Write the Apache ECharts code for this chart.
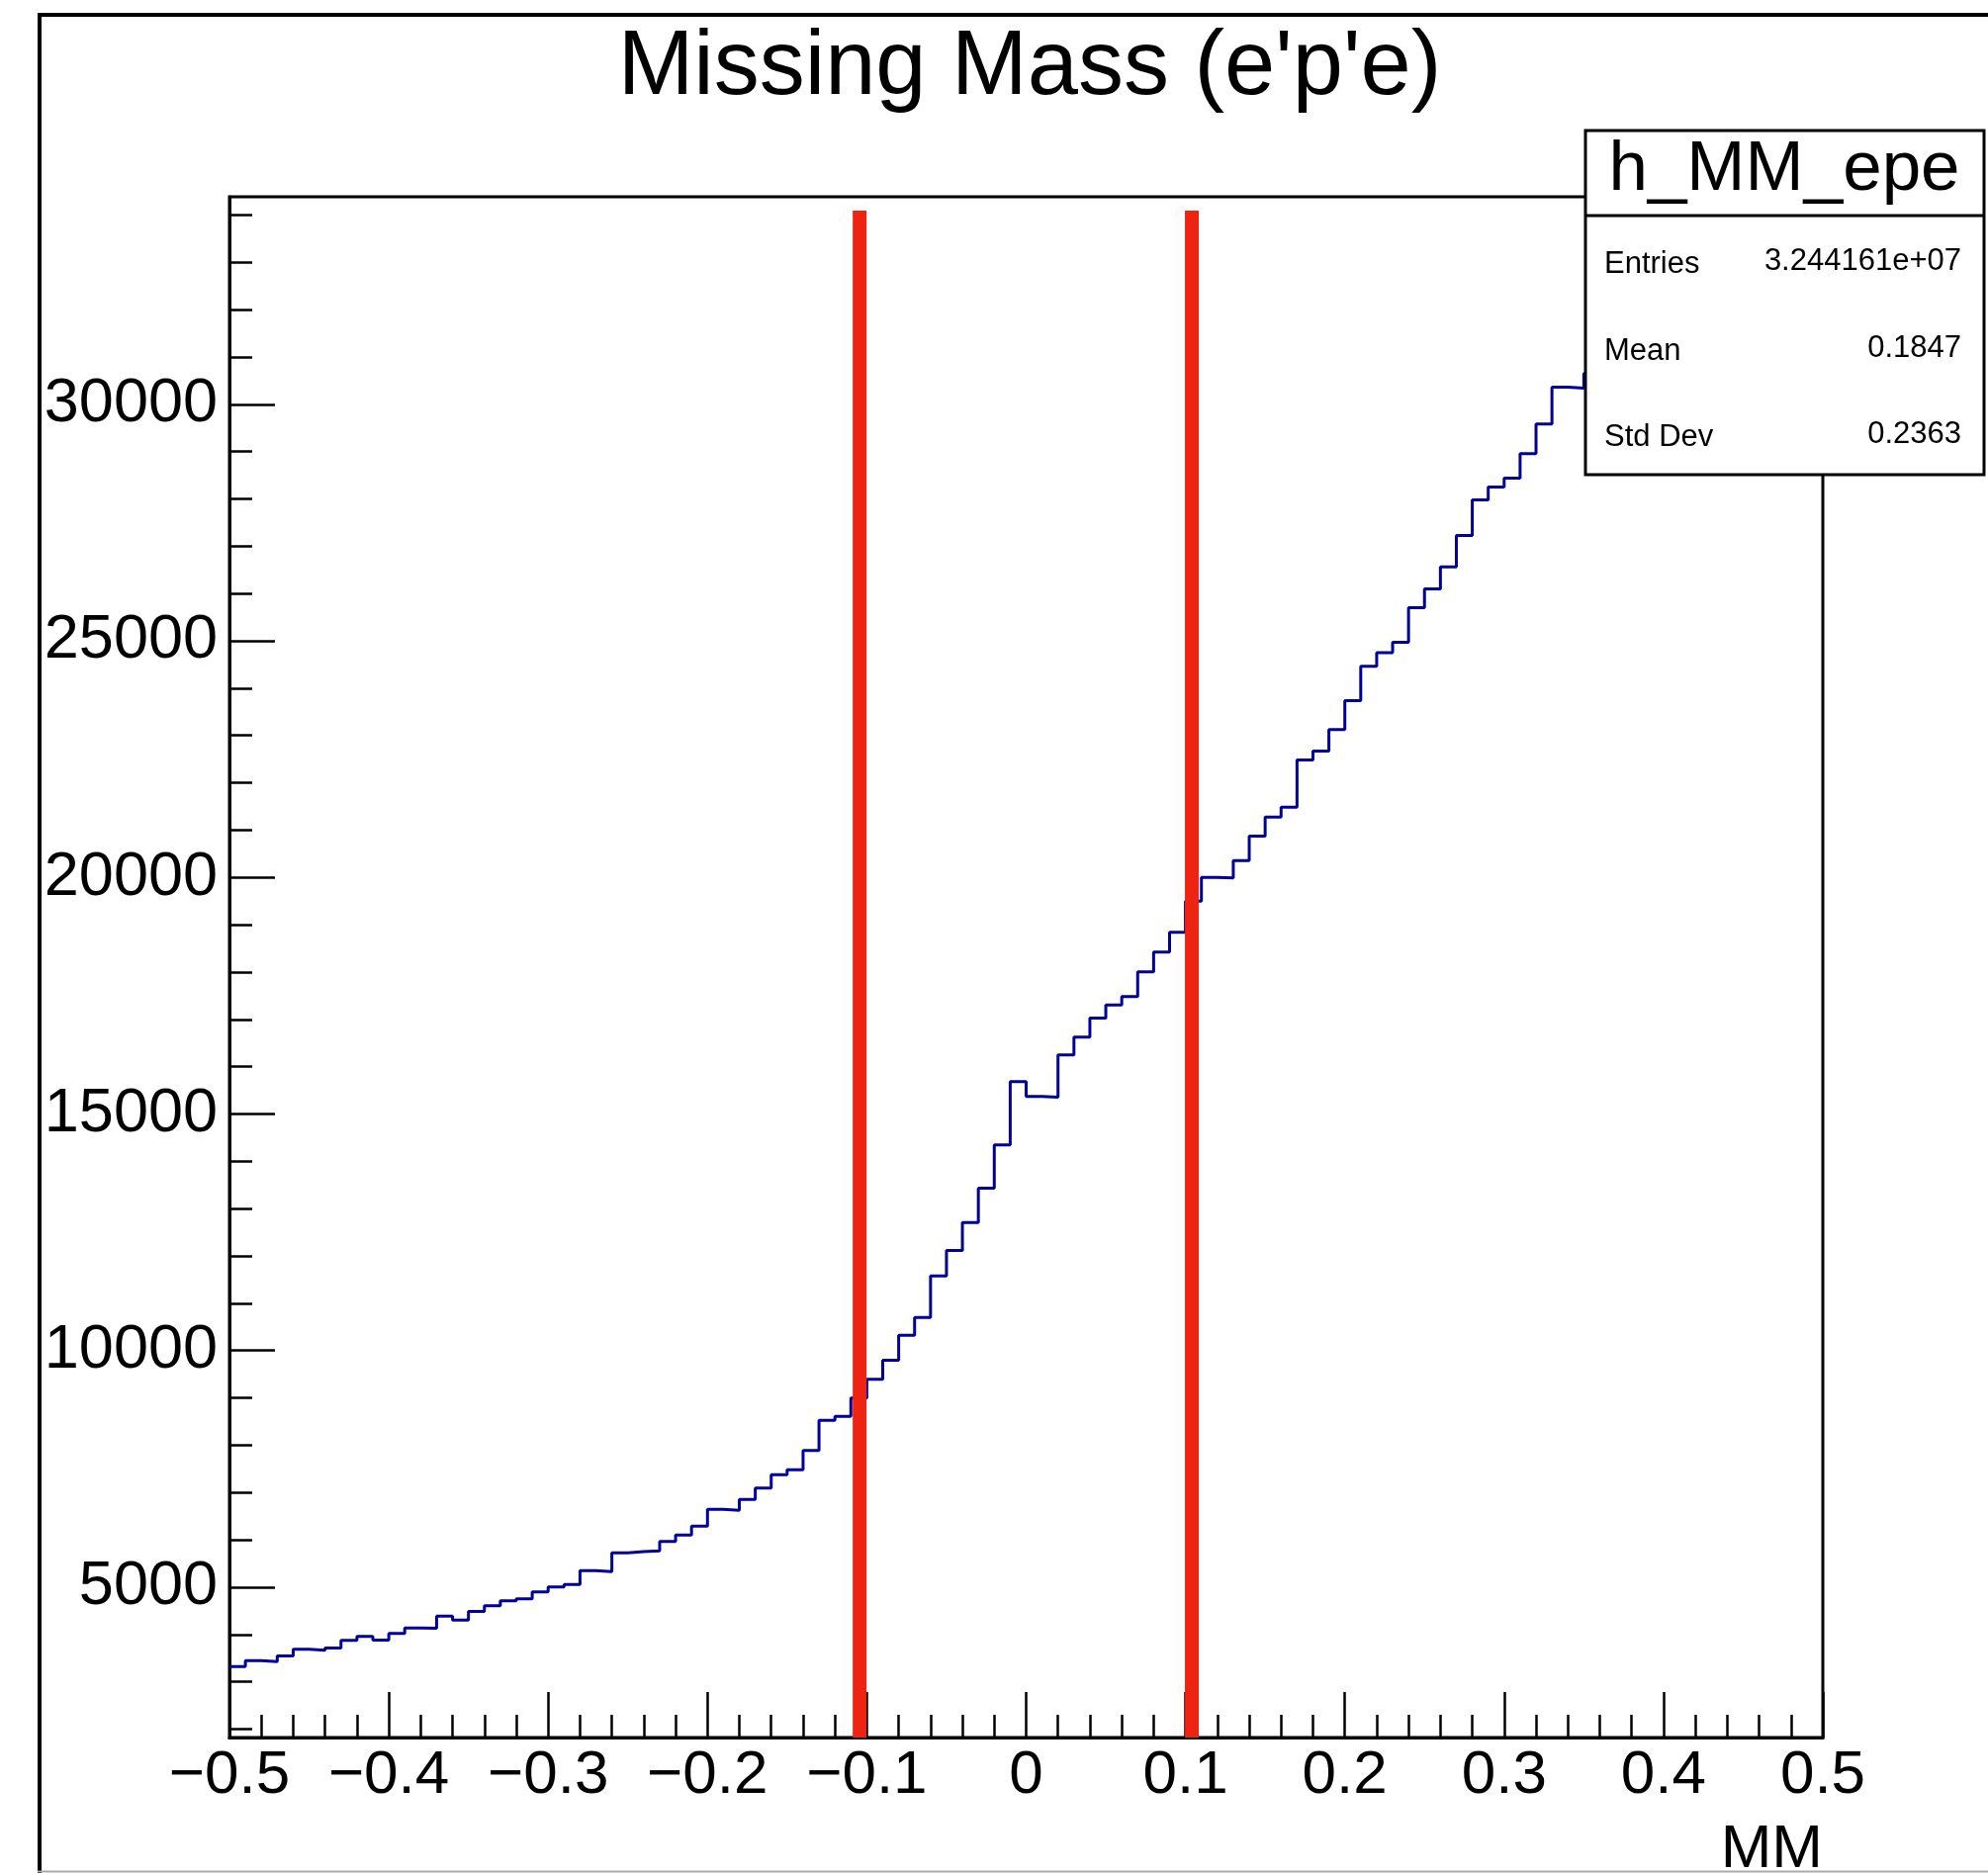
<!DOCTYPE html>
<html>
<head>
<meta charset="utf-8">
<title>Missing Mass (e'p'e)</title>
<script src="https://cdn.jsdelivr.net/npm/echarts@6/dist/echarts.min.js"></script>
<style>
  html, body { margin: 0; padding: 0; background: #fff; }
  #mmChart { width: 2010px; height: 1894px; }
</style>
</head>
<body>
<div id="mmChart"></div>
<script>
// histogram h_MM_epe, 100 bins from -0.5 to 0.5
const xMin = -0.5
const xMax = 0.5
const mmCounts = [
  3324, 3449, 3428, 3547, 3687, 3666, 3715, 3875, 3959, 3882,
  4022, 4139, 4133, 4390, 4306, 4488, 4607, 4711, 4753, 4900,
  5004, 5059, 5351, 5330, 5727, 5750, 5769, 5965, 6104, 6292,
  6647, 6626, 6856, 7094, 7379, 7483, 7888, 8528, 8612, 8996,
  9393, 9797, 10325, 10702, 11580, 12116, 12708, 13433, 14346, 15684,
  15370, 15356, 16248, 16624, 17028, 17306, 17481, 18004, 18422, 18840,
  19501, 20002, 19990, 20357, 20874, 21277, 21486, 22483, 22671, 23124,
  23737, 24462, 24747, 24970, 25701, 26099, 26565, 27227, 27980, 28252,
  28439, 28955, 29582, 30362, 30341, 30650, 30900, 31200, 31400, 31650,
  31800, 32000, 32150, 32300, 32400, 32550, 32650, 32750, 32850, 32900
]
// cut lines (red) and their vertical extent
const cutLines = [-0.1045, 0.104]
const cutTop = 34090

const yMin = 1823
const yMax = 34384
const yMajorTicks = [5000, 10000, 15000, 20000, 25000, 30000]
const yMinorTicks = [2000, 3000, 4000, 6000, 7000, 8000, 9000, 11000, 12000, 13000, 14000,
  16000, 17000, 18000, 19000, 21000, 22000, 23000, 24000, 26000, 27000, 28000, 29000,
  31000, 32000, 33000, 34000]
const xMajorTicks = [-0.5, -0.4, -0.3, -0.2, -0.1, 0, 0.1, 0.2, 0.3, 0.4, 0.5]
const xMinorTicks = [-0.48, -0.46, -0.44, -0.42, -0.38, -0.36, -0.34, -0.32, -0.28, -0.26, -0.24, -0.22,
  -0.18, -0.16, -0.14, -0.12, -0.08, -0.06, -0.04, -0.02, 0.02, 0.04, 0.06, 0.08,
  0.12, 0.14, 0.16, 0.18, 0.22, 0.24, 0.26, 0.28, 0.32, 0.34, 0.36, 0.38,
  0.42, 0.44, 0.46, 0.48]

const statsRows = [
  ['Entries', '3.244161e+07'],
  ['Mean', '0.1847'],
  ['Std Dev', '0.2363']
]

const FONT = "'Liberation Sans', Arial, Helvetica, sans-serif"

// bin edges -> step line points
const binWidth = (xMax - xMin) / mmCounts.length
const histData = mmCounts.map((c, i) => [xMin + i * binWidth, c])
histData.push([xMax, mmCounts[mmCounts.length - 1]])

function fmtX (v) {
  if (v === 0) return '0'
  return v < 0 ? '\u2212' + String(-v) : String(v)
}

const chart = echarts.init(document.getElementById('mmChart'), null, { renderer: 'canvas' })

const baseX = {
  type: 'value', min: xMin, max: xMax, position: 'bottom',
  splitLine: { show: false }
}
const baseY = {
  type: 'value', min: yMin, max: yMax, position: 'left',
  splitLine: { show: false }
}

const series = [{
  name: 'h_MM_epe',
  type: 'line',
  step: 'end',
  data: histData,
  symbol: 'none',
  xAxisIndex: 0,
  yAxisIndex: 0,
  lineStyle: { color: '#000099', width: 3 },
  z: 2,
  animation: false
}]
cutLines.forEach((x, i) => {
  series.push({
    name: 'cut' + i,
    type: 'line',
    data: [[x, yMin], [x, cutTop]],
    symbol: 'none',
    lineStyle: { color: '#ee2312', width: 14 },
    z: 3,
    animation: false
  })
})

const statsLeft = 1603
const statsTop = 132
const statsW = 403
const statsH = 348
const rowCenters = [267, 355, 442]

const graphics = [
  // pad border
  { type: 'line', shape: { x1: 40, y1: 13, x2: 40, y2: 1894 }, style: { stroke: '#000', lineWidth: 4 }, z: 50 },
  { type: 'line', shape: { x1: 38, y1: 15, x2: 2010, y2: 15 }, style: { stroke: '#000', lineWidth: 4 }, z: 50 },
  { type: 'line', shape: { x1: 38, y1: 1892.5, x2: 2010, y2: 1892.5 }, style: { stroke: '#aaa', lineWidth: 2 }, z: 50 },
  // title
  {
    type: 'text', x: 1041, y: 70, z: 50,
    style: { text: "Missing Mass (e'p'e)", font: '92px ' + FONT, fill: '#000', align: 'center', verticalAlign: 'middle' }
  },
  // x axis title
  {
    type: 'text', x: 1843, y: 1871, z: 50,
    style: { text: 'MM', font: '62px ' + FONT, fill: '#000', align: 'right', verticalAlign: 'middle' }
  },
  // stats box
  {
    type: 'rect', z: 100,
    shape: { x: statsLeft, y: statsTop, width: statsW, height: statsH },
    style: { fill: '#fff', stroke: '#000', lineWidth: 3 }
  },
  {
    type: 'line', z: 101,
    shape: { x1: statsLeft, y1: 218, x2: statsLeft + statsW, y2: 218 },
    style: { stroke: '#000', lineWidth: 3 }
  },
  {
    type: 'text', x: 1804, y: 172, z: 101,
    style: { text: 'h_MM_epe', font: '71px ' + FONT, fill: '#000', align: 'center', verticalAlign: 'middle' }
  }
]
statsRows.forEach((row, i) => {
  graphics.push({
    type: 'text', x: 1622, y: rowCenters[i], z: 101,
    style: { text: row[0], font: '31px ' + FONT, fill: '#000', align: 'left', verticalAlign: 'middle' }
  })
  graphics.push({
    type: 'text', x: 1983, y: rowCenters[i] - 3, z: 101,
    style: { text: row[1], font: '31px ' + FONT, fill: '#000', align: 'right', verticalAlign: 'middle' }
  })
})

chart.setOption({
  backgroundColor: '#fff',
  animation: false,
  grid: {
    left: 232, top: 199, width: 1611, height: 1558,
    show: true, borderColor: '#000', borderWidth: 3, backgroundColor: 'transparent'
  },
  xAxis: [
    Object.assign({}, baseX, {
      axisLine: { onZero: false, lineStyle: { color: '#000', width: 3 } },
      axisTick: { inside: true, length: 46, lineStyle: { color: '#000', width: 2.5 }, customValues: xMajorTicks },
      axisLabel: {
        customValues: xMajorTicks, formatter: fmtX, margin: 8,
        color: '#000', fontSize: 62, fontFamily: FONT
      }
    }),
    Object.assign({}, baseX, {
      axisLine: { show: false, onZero: false },
      axisTick: { inside: true, length: 23, lineStyle: { color: '#000', width: 2.5 }, customValues: xMinorTicks },
      axisLabel: { show: false }
    })
  ],
  yAxis: [
    Object.assign({}, baseY, {
      axisLine: { show: true, onZero: false, lineStyle: { color: '#000', width: 3 } },
      axisTick: { show: true, inside: true, length: 46, lineStyle: { color: '#000', width: 2.5 }, customValues: yMajorTicks },
      axisLabel: {
        customValues: yMajorTicks, formatter: v => String(v), margin: 12,
        color: '#000', fontSize: 63, fontFamily: FONT
      }
    }),
    Object.assign({}, baseY, {
      axisLine: { show: false, onZero: false },
      axisTick: { show: true, inside: true, length: 23, lineStyle: { color: '#000', width: 2.5 }, customValues: yMinorTicks },
      axisLabel: { show: false }
    })
  ],
  series: series,
  graphic: graphics
})

window.onresize = function () {
  chart.resize()
}
</script>
</body>
</html>
